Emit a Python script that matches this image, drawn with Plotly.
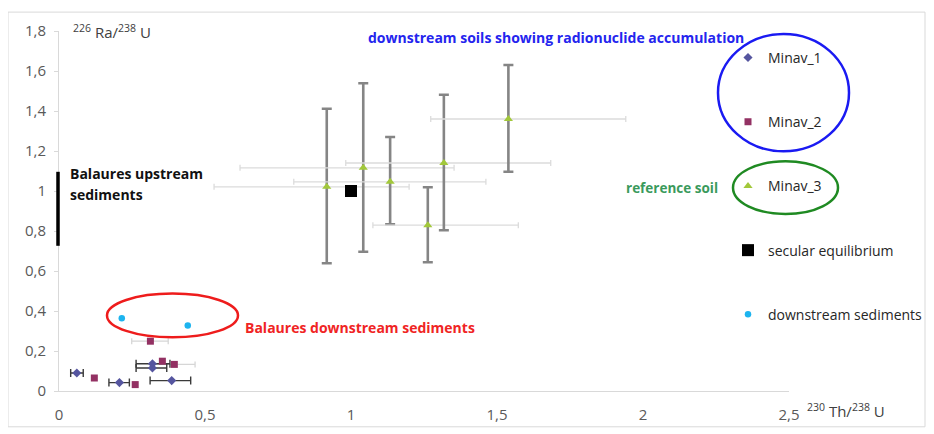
import plotly.graph_objects as go

# ---------------- data ----------------
minav1_x = [0.061, 0.207, 0.386, 0.320, 0.320]
minav1_y = [0.090, 0.042, 0.052, 0.136, 0.115]
minav1_xerr_plus = [0.022, 0.034, 0.065, 0.060, 0.049]
minav1_xerr_minus = [0.021, 0.036, 0.074, 0.056, 0.056]

minav2_x = [0.121, 0.261, 0.313, 0.354, 0.395]
minav2_y = [0.065, 0.032, 0.249, 0.149, 0.133]
# only two Minav_2 samples carry (light) x error bars
minav2e_x = [0.313, 0.395]
minav2e_y = [0.249, 0.133]
minav2e_plus = [0.061, 0.071]
minav2e_minus = [0.064, 0.070]

minav3_x = [0.917, 1.042, 1.134, 1.263, 1.318, 1.539]
minav3_y = [1.021, 1.116, 1.046, 0.829, 1.140, 1.360]
minav3_yerr_plus = [0.390, 0.423, 0.224, 0.190, 0.341, 0.270]
minav3_yerr_minus = [0.382, 0.420, 0.212, 0.185, 0.336, 0.264]
minav3_xerr_plus = [0.282, 0.311, 0.328, 0.310, 0.366, 0.402]
minav3_xerr_minus = [0.386, 0.422, 0.330, 0.188, 0.336, 0.266]

secular_x = [1.0]
secular_y = [1.0]

downstream_x = [0.215, 0.441]
downstream_y = [0.364, 0.327]

upstream_range = [0.726, 1.096]   # Balaures upstream sediments (y span)

x_tickvals = [0, 0.5, 1, 1.5, 2, 2.5]
x_ticktext = ["0", "0,5", "1", "1,5", "2", "2,5"]
y_tickvals = [0, 0.2, 0.4, 0.6, 0.8, 1.0, 1.2, 1.4, 1.6, 1.8]
y_ticktext = ["0", "0,2", "0,4", "0,6", "0,8", "1", "1,2", "1,4", "1,6", "1,8"]

# ---------------- layout helpers (reference pixel -> paper) ----------------
OFF = 8                      # page body margin shifts the figure by 8 px
W, H = 934, 434
L, T = 59 - OFF, 21
R = W - (789 - OFF)
B = 51
PW, PH = W - L - R, H - T - B


def px(x):
    return (x - OFF - L) / PW


def py(y):
    return (H - B - (y - OFF)) / PH


FONT = "'Open Sans', Lato, sans-serif"
C1 = "#55559f"
C2 = "#933163"
C3 = "#a2c83a"
CYAN = "#1db4ef"

fig = go.Figure()

# error-bar carriers (no legend) drawn first
fig.add_trace(go.Scatter(
    x=minav3_x, y=minav3_y, mode="markers", showlegend=False, hoverinfo="skip",
    marker=dict(size=1, opacity=0),
    error_x=dict(type="data", symmetric=False, array=minav3_xerr_plus,
                 arrayminus=minav3_xerr_minus, color="#dcdcdc", thickness=1.3, width=3),
    error_y=dict(type="data", symmetric=False, array=minav3_yerr_plus,
                 arrayminus=minav3_yerr_minus, color="#858585", thickness=2.6, width=5),
))
fig.add_trace(go.Scatter(
    x=minav2e_x, y=minav2e_y, mode="markers", showlegend=False, hoverinfo="skip",
    marker=dict(size=1, opacity=0),
    error_x=dict(type="data", symmetric=False, array=minav2e_plus,
                 arrayminus=minav2e_minus, color="#d6d6d6", thickness=1.3, width=3),
))
fig.add_trace(go.Scatter(
    x=minav1_x, y=minav1_y, mode="markers", showlegend=False, hoverinfo="skip",
    marker=dict(size=1, opacity=0),
    error_x=dict(type="data", symmetric=False, array=minav1_xerr_plus,
                 arrayminus=minav1_xerr_minus, color="#3a3a3a", thickness=1.4, width=4),
))

# visible series
fig.add_trace(go.Scatter(
    x=minav1_x, y=minav1_y, mode="markers", name="Minav_1", legendgroup="g1",
    marker=dict(symbol="diamond", size=7, color=C1),
))
fig.add_trace(go.Scatter(
    x=minav2_x, y=minav2_y, mode="markers", name="Minav_2", legendgroup="g2",
    marker=dict(symbol="square", size=7, color=C2),
))
fig.add_trace(go.Scatter(
    x=minav3_x, y=minav3_y, mode="markers", name="Minav_3", legendgroup="g3",
    marker=dict(symbol="triangle-up", size=8, color=C3),
))
fig.add_trace(go.Scatter(
    x=secular_x, y=secular_y, mode="markers", name="secular equilibrium", legendgroup="g4",
    marker=dict(symbol="square", size=12, color="black"),
))
fig.add_trace(go.Scatter(
    x=downstream_x, y=downstream_y, mode="markers", name="downstream sediments",
    legendgroup="g5",
    marker=dict(symbol="circle", size=6.5, color=CYAN),
))

shapes = [
    # chart border
    dict(type="rect", xref="paper", yref="paper", x0=px(8), x1=px(925), y0=py(427), y1=py(10),
         line=dict(color="#d9d9d9", width=1), layer="below"),
    # Balaures upstream sediments bar
    dict(type="line", xref="paper", yref="y", x0=px(58), x1=px(58),
         y0=upstream_range[0], y1=upstream_range[1], line=dict(color="black", width=3.5)),
    # ellipses
    dict(type="circle", xref="paper", yref="paper", x0=px(718), x1=px(849), y0=py(150), y1=py(32),
         line=dict(color="#1a1af2", width=2.5)),
    dict(type="circle", xref="paper", yref="paper", x0=px(733), x1=px(838), y0=py(213), y1=py(160),
         line=dict(color="#1f8a22", width=2.5)),
    dict(type="circle", xref="paper", yref="paper", x0=px(107), x1=px(238), y0=py(337), y1=py(293),
         line=dict(color="#ee1c1c", width=2.5)),
]

ann = [
    dict(text="<sup>226</sup> Ra/<sup>238</sup> U", x=px(71), y=py(29), xanchor="left",
         yanchor="middle", font=dict(size=15, color="#404040")),
    dict(text="<sup>230</sup> Th/<sup>238</sup> U", x=px(805), y=py(411), xanchor="left",
         yanchor="middle", font=dict(size=15, color="#404040")),
    dict(text="<b>downstream soils showing radionuclide accumulation</b>", x=px(556), y=py(36),
         xanchor="center", yanchor="middle", font=dict(size=14, color="#2424ee")),
    dict(text="<b>Balaures downstream sediments</b>", x=px(243), y=py(327),
         xanchor="left", yanchor="middle", font=dict(size=14, color="#f02424")),
    dict(text="<b>reference soil</b>", x=px(624), y=py(187),
         xanchor="left", yanchor="middle", font=dict(size=13.5, color="#3a9a5c")),
    dict(text="<b>Balaures upstream</b>", x=px(68), y=py(172),
         xanchor="left", yanchor="middle", font=dict(size=14, color="#111111")),
    dict(text="<b>sediments</b>", x=px(68), y=py(193),
         xanchor="left", yanchor="middle", font=dict(size=14, color="#111111")),
]
for a in ann:
    a.update(xref="paper", yref="paper", showarrow=False)

fig.update_layout(
    width=W, height=H,
    margin=dict(l=L, r=R, t=T, b=B, pad=0),
    paper_bgcolor="white", plot_bgcolor="white",
    font=dict(family=FONT, size=13, color="#595959"),
    showlegend=True,
    legend=dict(x=px(728), y=py(40), xanchor="left", yanchor="top",
                font=dict(size=14, color="#262626"), tracegroupgap=43,
                bgcolor="rgba(0,0,0,0)", itemwidth=30),
    shapes=shapes,
    annotations=ann,
)
fig.update_xaxes(range=[0, 2.5], tickvals=x_tickvals, ticktext=x_ticktext,
                 showgrid=False, zeroline=False, showline=True, linecolor="#d9d9d9",
                 linewidth=1, ticks="", ticklabelstandoff=10,
                 tickfont=dict(size=15, color="#595959"))
fig.update_yaxes(range=[0, 1.8], tickvals=y_tickvals, ticktext=y_ticktext,
                 showgrid=False, zeroline=False, showline=True, linecolor="#d9d9d9",
                 linewidth=1, ticks="outside", ticklen=4, tickcolor="#d9d9d9",
                 ticklabelstandoff=5, tickfont=dict(size=15, color="#595959"))

fig.write_html("out.html")
